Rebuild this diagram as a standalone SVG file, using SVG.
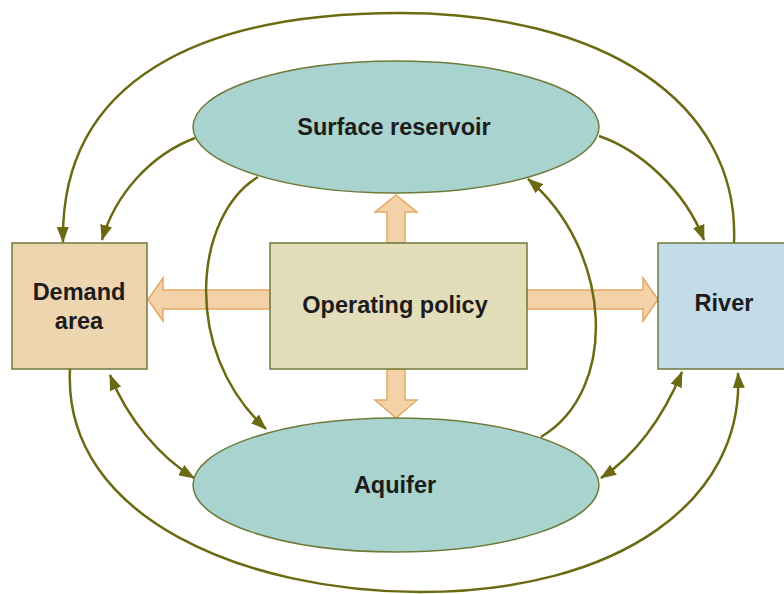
<svg xmlns="http://www.w3.org/2000/svg" width="784" height="594" viewBox="0 0 784 594">
<style>
.lbl{font-family:"Liberation Sans",Arial,sans-serif;font-weight:bold;font-size:23.5px;fill:#1c1c1c;text-anchor:middle}
.node{stroke:#6e7a3a;stroke-width:1.5}
.conn{fill:none;stroke:#6b6a12;stroke-width:2.5}
.fat{fill:#f2d2a6;stroke:#e3a966;stroke-width:1.5}
</style>
<defs>
<marker id="ah" viewBox="0 0 16 12" refX="15" refY="6" markerWidth="16" markerHeight="12" markerUnits="userSpaceOnUse" orient="auto-start-reverse">
<path d="M0,0 L16,6 L0,12 Z" fill="#6b6a12"/>
</marker>
</defs>
<rect width="784" height="594" fill="#ffffff"/>
<g id="fat-arrows">
<path class="fat" d="M270,290 L163,290 L163,278 L148,299.5 L163,321 L163,309 L270,309 Z"/>
<path class="fat" d="M527,290 L643,290 L643,278 L658,299.5 L643,321 L643,309 L527,309 Z"/>
<path class="fat" d="M387,243 L387,212 L375,212 L396,195 L417,212 L405,212 L405,243 Z"/>
<path class="fat" d="M387,369 L387,400 L375,400 L396,418 L417,400 L405,400 L405,369 Z"/>
</g>
<g id="connectors">
<path class="conn" marker-end="url(#ah)" d="M734,243 C740,100 600,13 400,13 C200,13 60,80 63,242"/>
<path class="conn" marker-end="url(#ah)" d="M195,138 C150,155 115,195 102,240"/>
<path class="conn" marker-end="url(#ah)" d="M599,136 C640,150 685,190 704,240"/>
<path class="conn" marker-end="url(#ah)" d="M258,177 C195,215 180,350 266,429"/>
<path class="conn" marker-end="url(#ah)" d="M541,437 C620,390 612,250 528,179"/>
<path class="conn" marker-start="url(#ah)" marker-end="url(#ah)" d="M110,375 C128,420 160,457 194,478"/>
<path class="conn" marker-start="url(#ah)" marker-end="url(#ah)" d="M682,372 C666,410 640,452 601,478"/>
<path class="conn" marker-end="url(#ah)" d="M70,369 C62,520 250,592 420,592 C620,592 745,500 738,373"/>
</g>
<g id="surface-reservoir">
<ellipse class="node" cx="396" cy="127" rx="203" ry="66" fill="#a9d3cf"/>
<text class="lbl" x="394" y="135">Surface reservoir</text>
</g>
<g id="aquifer">
<ellipse class="node" cx="396" cy="485" rx="203" ry="67" fill="#a9d3cf"/>
<text class="lbl" x="395" y="493">Aquifer</text>
</g>
<g id="demand-area">
<rect class="node" x="12" y="243" width="135" height="126" fill="#edd5b0"/>
<text class="lbl" x="79" y="300">Demand</text>
<text class="lbl" x="79" y="329">area</text>
</g>
<g id="operating-policy">
<rect class="node" x="270" y="243" width="257" height="126" fill="#e3ddb9"/>
<text class="lbl" x="395" y="313">Operating policy</text>
</g>
<g id="river">
<rect class="node" x="658" y="243" width="130" height="126" fill="#c4dbea"/>
<text class="lbl" x="724" y="311">River</text>
</g>
</svg>
